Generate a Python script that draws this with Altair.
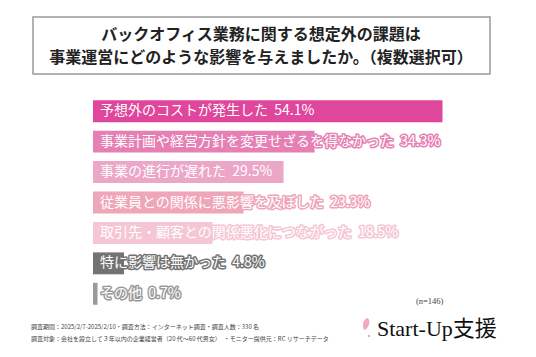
import altair as alt
import pandas as pd

categories = [
    "予想外のコストが発生した",
    "事業計画や経営方針を変更せざるを得なかった",
    "事業の進行が遅れた",
    "従業員との関係に悪影響を及ぼした",
    "取引先・顧客との関係悪化につながった",
    "特に影響は無かった",
    "その他",
]
values = [54.1, 34.3, 29.5, 23.3, 18.5, 4.8, 0.7]
colors = ["#E0469B", "#E680B4", "#EBA6C8", "#EFA6B8", "#F5C6D3", "#737373", "#9A9A9A"]

title_lines = [
    "バックオフィス業務に関する想定外の課題は",
    "事業運営にどのような影響を与えましたか。（複数選択可）",
]
footer_lines = [
    "調査期間：2025/2/7-2025/2/10・調査方法：インターネット調査・調査人数：330 名",
    "調査対象：会社を設立して３年以内の企業経営者（20 代～60 代男女）　・モニター提供元：RC リサーチデータ",
]
n_note = "(n=146)"
logo_text = "Start-Up支援"

df = pd.DataFrame({"cat": categories, "value": values, "color": colors})
df["label"] = [f"{c}\u00a0\u00a0{v:.1f}%" for c, v in zip(categories, values)]

JP = "Noto Sans CJK JP"

x_scale = alt.Scale(domain=[0, 100], range=[93, 739])
y_scale = alt.Scale(domain=categories, range=[96, 309], paddingInner=0.28, paddingOuter=0.14)

base = alt.Chart(df).encode(
    y=alt.Y("cat:N", scale=y_scale, axis=None, sort=categories),
)

bars = base.mark_bar(cornerRadius=0).encode(
    x=alt.X("value:Q", scale=x_scale, axis=None),
    x2=alt.value(93),
    color=alt.Color("color:N", scale=None),
)

label_outline = base.mark_text(
    align="left", baseline="middle", dx=7, fontSize=14, font=JP,
    strokeWidth=3, strokeJoin="round", fill="white",
).encode(
    x=alt.value(93),
    text="label:N",
    stroke=alt.Color("color:N", scale=None),
)
label_fill = base.mark_text(
    align="left", baseline="middle", dx=7, fontSize=14, font=JP, color="white",
).encode(
    x=alt.value(93),
    text="label:N",
)

box = alt.Chart(pd.DataFrame({"k": [0]})).mark_rect(
    fill="white", stroke="#9a9a9a", strokeWidth=1.5
).encode(x=alt.value(33), x2=alt.value(490), y=alt.value(17), y2=alt.value(74))

title_df = pd.DataFrame({"t": title_lines, "i": [0, 1]})
title = alt.Chart(title_df).mark_text(
    fontSize=16, fontWeight="bold", font=JP, color="#222222", align="center", baseline="middle"
).encode(
    text="t:N",
    x=alt.value(261),
    y=alt.Y("i:Q", scale=alt.Scale(domain=[0, 1], range=[35, 57.5]), axis=None),
)

foot_df = pd.DataFrame({"t": footer_lines, "i": [0, 1]})
footer = alt.Chart(foot_df).mark_text(
    fontSize=6, font=JP, color="#444444", align="left", baseline="middle"
).encode(
    text="t:N",
    x=alt.value(31),
    y=alt.Y("i:Q", scale=alt.Scale(domain=[0, 1], range=[327, 339]), axis=None),
)

n_text = alt.Chart(pd.DataFrame({"t": [n_note]})).mark_text(
    fontSize=8.5, font="Liberation Serif", color="#444444", align="left", baseline="middle"
).encode(text="t:N", x=alt.value(416), y=alt.value(301))

logo = alt.Chart(pd.DataFrame({"t": [logo_text]})).mark_text(
    fontSize=22, font="Liberation Serif, Noto Sans CJK JP", color="#111111",
    align="left", baseline="alphabetic",
).encode(text="t:N", x=alt.value(377), y=alt.value(336))

petal = alt.Chart(pd.DataFrame({"k": [0]})).mark_point(
    shape="M0,-1 C0.7,-0.7 0.55,0.6 0,1 C-0.55,0.6 -0.7,-0.7 0,-1 Z",
    filled=True, color="#F0A8C4", size=160, angle=15, opacity=1,
).encode(x=alt.value(366), y=alt.value(324))

dot = alt.Chart(pd.DataFrame({"k": [0]})).mark_point(
    filled=True, color="#F0A8C4", size=6, opacity=1,
).encode(x=alt.value(369), y=alt.value(336))

chart = alt.layer(
    box, title, bars, label_outline, label_fill, footer, n_text, petal, dot, logo
).resolve_scale(
    x="independent", y="independent"
).properties(
    width=536, height=357,
    autosize=alt.AutoSizeParams(type="none"),
    padding=0,
    background="white",
).configure_view(stroke=None)

chart.save("out.html", embed_options={"renderer": "svg", "actions": False})
